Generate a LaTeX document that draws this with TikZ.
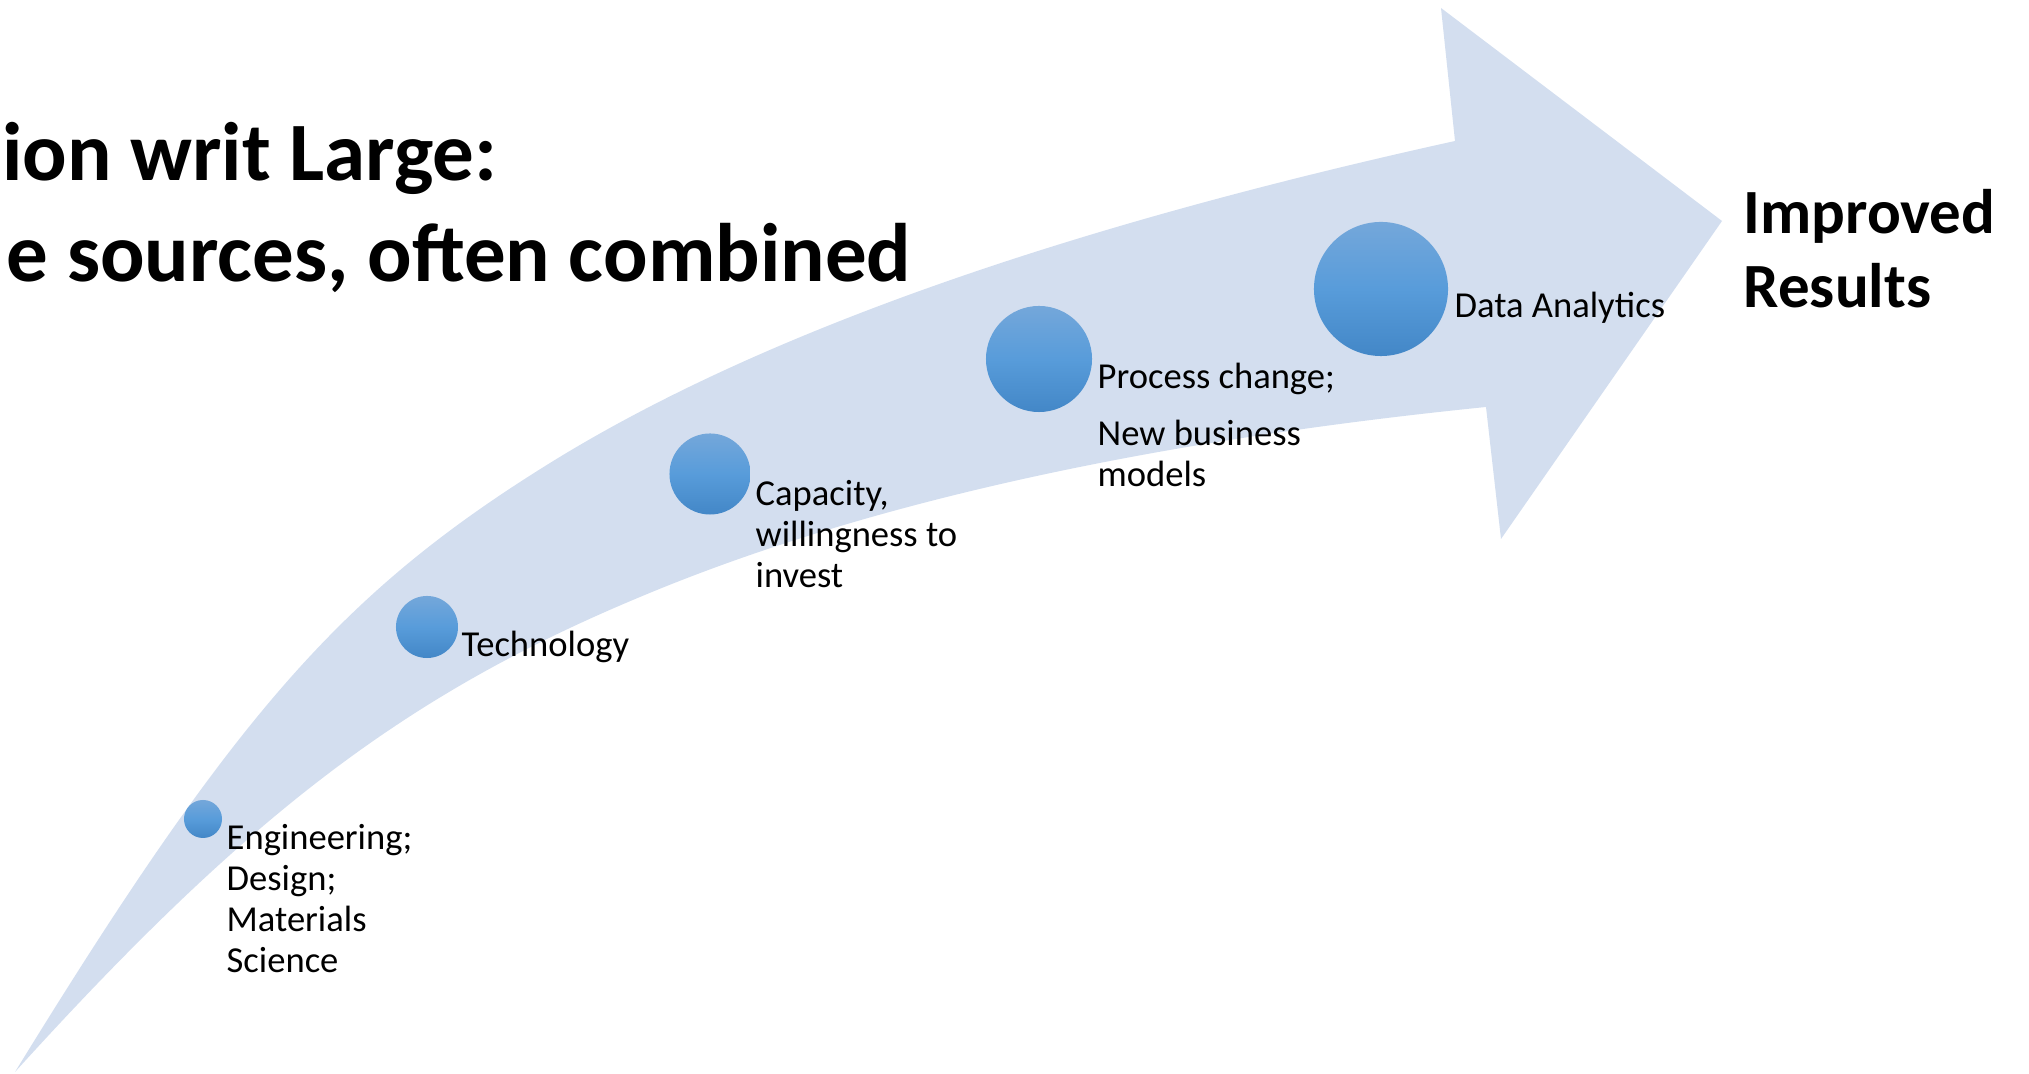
\documentclass[tikz,border=0pt]{standalone}
\usepackage{fontspec}
\setmainfont{Carlito}
\usepackage{tikz}

\definecolor{bandblue}{RGB}{211,222,239}
\definecolor{balltop}{RGB}{116,167,218}
\definecolor{ballmid}{RGB}{88,156,218}
\definecolor{ballbot}{RGB}{67,135,199}

\begin{document}
\begin{tikzpicture}[x=0.01cm,y=-0.01cm,
  bubble/.style={circle,inner sep=0pt,top color=balltop,bottom color=ballbot,middle color=ballmid},
  lbl/.style={anchor=base west,align=left,inner sep=0pt,font=\fontsize{10.4}{11.7}\selectfont},
  headline/.style={anchor=base east,inner sep=0pt,font=\bfseries\fontsize{23.6}{28.7}\selectfont}]
\useasboundingbox (0,0) rectangle (2029,1074);

% the curved arrow
\fill[bandblue] (15,1072) .. controls (235,714) and (342,592) .. (550,463)
  .. controls (755,336) and (1056,229) .. (1455,141)
  -- (1441,8) -- (1722,221) -- (1501,539) -- (1486,407)
  .. controls (1141,442) and (859,505) .. (640,597)
  .. controls (405,695) and (249,814) .. (15,1072) -- cycle;

\node[headline] (title1) at (498,181) {ion writ Large:};
\node[headline] (title2) at (912,282) {e sources, often combined};

\node[bubble,minimum size=0.38cm] (eng) at (203,819) {};
\node[bubble,minimum size=0.62cm] (tech) at (427,627) {};
\node[bubble,minimum size=0.81cm] (cap) at (710,474) {};
\node[bubble,minimum size=1.06cm] (proc) at (1039,359) {};
\node[bubble,minimum size=1.34cm] (data) at (1381,289) {};

% base of a multi-line label = its last line
\node[lbl] (englbl) at (226,973) {Engineering;\\Design;\\Materials\\Science};
\node[lbl] (techlbl) at (461,657) {Technology};
\node[lbl] (caplbl) at (755,588) {Capacity,\\willingness to\\invest};
\node[lbl] (proclbl) at (1097,487) {Process change;\\[4.5pt]New business\\models};
\node[lbl] (datalbl) at (1454,318) {Data Analytics};

\node[lbl,font=\bfseries\fontsize{17.9}{21.3}\selectfont] (result) at (1743,308) {Improved\\Results};
\end{tikzpicture}
\end{document}
